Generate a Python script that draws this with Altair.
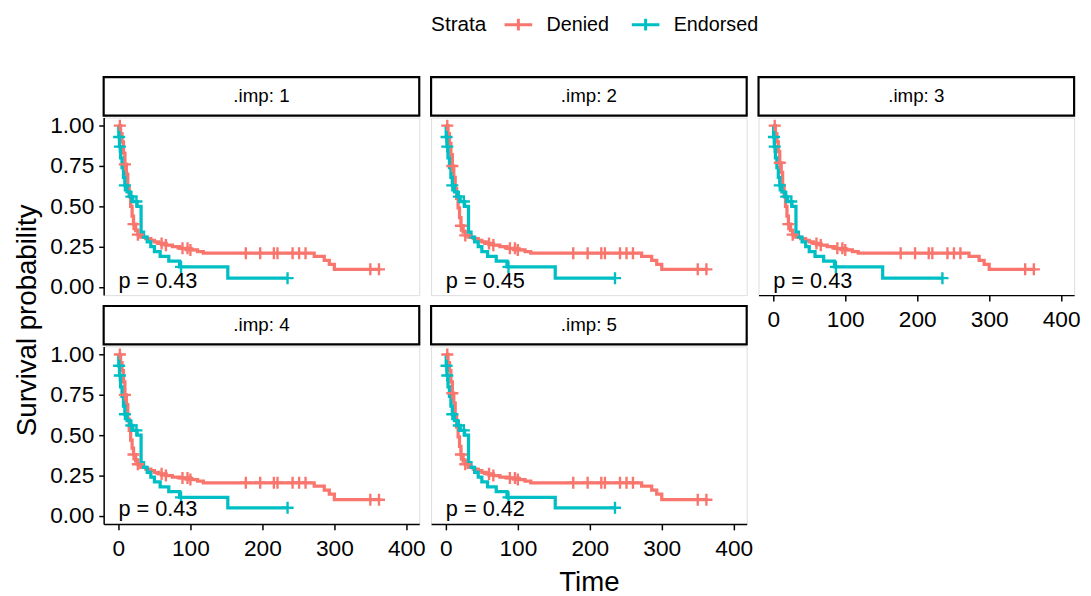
import altair as alt
import pandas as pd

FONT = "Liberation Sans"

IMPS = [1, 2, 3, 4, 5]
P_LABELS = ["p = 0.43", "p = 0.45", "p = 0.43", "p = 0.43", "p = 0.42"]
STRATA = ["Denied", "Endorsed"]
COLORS = ["#F8766D", "#00BFC4"]
X_TICKS = [0, 100, 200, 300, 400]
Y_TICKS = [0, 0.25, 0.5, 0.75, 1.0]

# Kaplan-Meier step points (time, survival)
DENIED_TIME = [0, 3, 5, 7, 9, 11, 13, 15, 17, 19, 21, 24, 27, 31, 38, 45, 50, 56, 66,
               75, 85, 100, 110, 118, 272, 286, 293, 300, 364]
DENIED_SURV_1 = [1.00, 0.95, 0.90, 0.83, 0.76, 0.70, 0.62, 0.56, 0.50, 0.44, 0.39, 0.35, 0.325,
                 0.31, 0.30, 0.29, 0.28, 0.27, 0.26, 0.25, 0.24, 0.23, 0.22, 0.21, 0.19, 0.165,
                 0.14, 0.11, 0.11]
DENIED_SURV_2 = [1.00, 0.95, 0.89, 0.82, 0.75, 0.68, 0.61, 0.55, 0.49, 0.43, 0.38, 0.34, 0.32,
                 0.31, 0.30, 0.29, 0.28, 0.27, 0.26, 0.25, 0.24, 0.23, 0.22, 0.21, 0.19, 0.165,
                 0.14, 0.11, 0.11]
DENIED_SURV_3 = [1.00, 0.95, 0.90, 0.84, 0.77, 0.71, 0.63, 0.56, 0.50, 0.44, 0.39, 0.35, 0.325,
                 0.31, 0.30, 0.29, 0.28, 0.27, 0.26, 0.25, 0.24, 0.23, 0.22, 0.21, 0.19, 0.165,
                 0.14, 0.11, 0.11]
DENIED_SURV_4 = [1.00, 0.95, 0.90, 0.83, 0.75, 0.69, 0.60, 0.53, 0.47, 0.42, 0.38, 0.34, 0.32,
                 0.30, 0.29, 0.28, 0.27, 0.26, 0.25, 0.24, 0.235, 0.225, 0.215, 0.205, 0.185,
                 0.16, 0.135, 0.10, 0.10]
DENIED_SURV_5 = [1.00, 0.95, 0.90, 0.83, 0.76, 0.70, 0.62, 0.55, 0.49, 0.43, 0.38, 0.34, 0.32,
                 0.30, 0.29, 0.28, 0.27, 0.26, 0.25, 0.24, 0.235, 0.225, 0.215, 0.205, 0.185,
                 0.16, 0.135, 0.10, 0.10]
DENIED_CENSOR = [2, 9, 21, 27, 60, 66, 89, 96, 100, 177, 197, 216, 221, 242, 251, 260, 350, 362]

ENDORSED_TIME = [0, 0.5, 1.5, 3, 5, 7, 9, 12, 16, 20, 26, 31.5, 35, 40, 45, 50, 58, 70, 85,
                 152, 235]
ENDORSED_SURV_1 = [1.0, 0.93, 0.87, 0.80, 0.74, 0.68, 0.63, 0.59, 0.56, 0.53, 0.50, 0.34, 0.31,
                   0.28, 0.25, 0.22, 0.19, 0.16, 0.125, 0.055, 0.055]
ENDORSED_SURV_2 = [1.0, 0.93, 0.87, 0.80, 0.74, 0.68, 0.63, 0.59, 0.56, 0.53, 0.50, 0.34, 0.31,
                   0.28, 0.25, 0.22, 0.19, 0.16, 0.125, 0.055, 0.055]
ENDORSED_SURV_3 = [1.0, 0.93, 0.87, 0.80, 0.74, 0.68, 0.63, 0.59, 0.56, 0.53, 0.50, 0.34, 0.31,
                   0.28, 0.25, 0.22, 0.19, 0.16, 0.125, 0.055, 0.055]
ENDORSED_SURV_4 = [1.0, 0.93, 0.87, 0.80, 0.74, 0.68, 0.63, 0.59, 0.56, 0.53, 0.50, 0.33, 0.30,
                   0.27, 0.24, 0.21, 0.18, 0.15, 0.115, 0.05, 0.05]
ENDORSED_SURV_5 = [1.0, 0.93, 0.87, 0.80, 0.74, 0.68, 0.63, 0.59, 0.56, 0.53, 0.50, 0.33, 0.30,
                   0.27, 0.24, 0.21, 0.18, 0.15, 0.115, 0.05, 0.05]
ENDORSED_CENSOR = [1, 2, 9, 18, 25, 87, 235]

DENIED_SURV = {1: DENIED_SURV_1, 2: DENIED_SURV_2, 3: DENIED_SURV_3, 4: DENIED_SURV_4, 5: DENIED_SURV_5}
ENDORSED_SURV = {1: ENDORSED_SURV_1, 2: ENDORSED_SURV_2, 3: ENDORSED_SURV_3,
                 4: ENDORSED_SURV_4, 5: ENDORSED_SURV_5}

W, H = 320, 180
XDOM = [-20.5, 418]
YDOM = [-0.05, 1.05]
CROSS = "M-1,0H1M0,-1V1"
LEG_SYMBOL = "M-1.4,0H1.4M0,-0.6V0.6"


def step_value(times, survs, t):
    v = survs[0]
    for tt, ss in zip(times, survs):
        if tt <= t:
            v = ss
    return v


LEGEND = alt.Legend(
    title="Strata", orient="none", legendX=332, legendY=-106, direction="horizontal",
    titleOrient="left", titleFontSize=21, titleFontWeight="normal", titleFont=FONT,
    titleColor="black", titlePadding=20, labelFontSize=20, labelFont=FONT, labelColor="black",
    labelOffset=17, columnPadding=16, symbolType=LEG_SYMBOL, symbolSize=400,
    symbolStrokeWidth=3, symbolOpacity=1, padding=0,
)


def x_axis(show, title=None):
    if not show:
        return None
    kw = dict(values=X_TICKS, grid=False, domainColor="black", tickColor="black",
              labelColor="black", labelFontSize=23, labelFont=FONT, tickSize=6, labelPadding=8,
              domainWidth=1.5, tickWidth=1.5, labelFlush=False)
    if title:
        kw.update(title=title, titleFontSize=28, titleFont=FONT, titleFontWeight="normal",
                  titleColor="black", titlePadding=8)
    else:
        kw.update(title=None)
    return alt.Axis(**kw)


def y_axis(show, title=None):
    if not show:
        return None
    kw = dict(values=Y_TICKS, format=".2f", grid=False, domainColor="black", tickColor="black",
              labelColor="black", labelFontSize=23, labelFont=FONT, tickSize=5, labelPadding=5,
              domainWidth=1.5, tickWidth=1.5, labelFlush=False)
    if title:
        kw.update(title=title, titleFontSize=28, titleFont=FONT, titleFontWeight="normal",
                  titleColor="black", titlePadding=8, titleY=205)
    else:
        kw.update(title=None)
    return alt.Axis(**kw)


def panel(k):
    imp = IMPS[k]
    rows = []
    for t, s in zip(DENIED_TIME, DENIED_SURV[imp]):
        rows.append({"time": t, "surv": s, "strata": "Denied"})
    for t, s in zip(ENDORSED_TIME, ENDORSED_SURV[imp]):
        rows.append({"time": t, "surv": s, "strata": "Endorsed"})
    lines_df = pd.DataFrame(rows)
    cens = []
    for t in DENIED_CENSOR:
        cens.append({"time": t, "surv": step_value(DENIED_TIME, DENIED_SURV[imp], t), "strata": "Denied"})
    for t in ENDORSED_CENSOR:
        cens.append({"time": t, "surv": step_value(ENDORSED_TIME, ENDORSED_SURV[imp], t), "strata": "Endorsed"})
    cens_df = pd.DataFrame(cens)
    p_df = pd.DataFrame({"time": [0], "surv": [0.04], "label": [P_LABELS[k]]})
    one = pd.DataFrame({"label": [f".imp: {imp}"]})

    xa = x_axis(imp in (3, 4, 5), "Time" if imp == 5 else None)
    ya = y_axis(imp in (1, 4), "Survival probability" if imp == 1 else None)
    x = alt.X("time:Q", scale=alt.Scale(domain=XDOM, nice=False, zero=False), axis=xa)
    y = alt.Y("surv:Q", scale=alt.Scale(domain=YDOM, nice=False, zero=False), axis=ya)
    color = alt.Color("strata:N", scale=alt.Scale(domain=STRATA, range=COLORS), legend=LEGEND)

    line = alt.Chart(lines_df).mark_line(interpolate="step-after", strokeWidth=3.3).encode(
        x=x, y=y, color=color, order="time:Q")
    pts = alt.Chart(cens_df).mark_point(shape=CROSS, filled=False, size=150, strokeWidth=2.4,
                                        opacity=1).encode(x=x, y=y, color=color)
    ptext = alt.Chart(p_df).mark_text(align="left", baseline="middle", fontSize=22, font=FONT,
                                      color="black").encode(x=x, y=y, text="label:N")
    box = alt.Chart(one).mark_rect(fill="white", stroke="black", strokeWidth=2.2).encode(
        x=alt.value(0), x2=alt.value(W), y=alt.value(-41), y2=alt.value(-2))
    stext = alt.Chart(one).mark_text(align="center", baseline="middle", fontSize=19, font=FONT,
                                     color="black").encode(
        x=alt.value(W / 2), y=alt.value(-21.5), text="label:N")
    return alt.layer(line, pts, ptext, box, stext).properties(width=W, height=H)


chart = alt.concat(
    *[panel(k) for k in range(5)], columns=3,
    spacing={"row": 52, "column": 12}, bounds="flush"
).properties(
    padding={"left": 5, "top": 1, "right": 2, "bottom": 0}
).resolve_scale(color="shared").configure_view(stroke=None).configure(background="white")

chart.save("out.html", embed_options={"renderer": "svg", "actions": False})
